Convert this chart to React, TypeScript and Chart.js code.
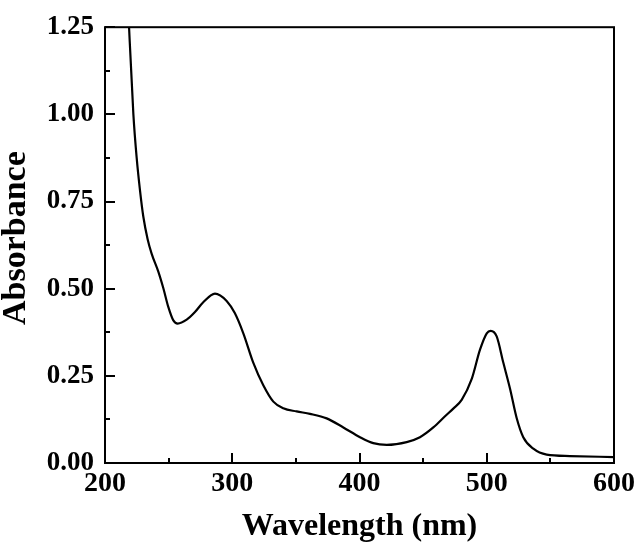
import React, { useEffect, useRef } from "react";
import { Chart, registerables } from "chart.js";

Chart.register(...registerables);

const wavelength = [218, 222.3, 224.9, 227.5, 230.1, 233.5, 236.7, 241.9, 245.8, 249.8, 253.7, 257.1, 264.2, 270.7, 277.2, 286.4, 295.6, 302, 308.7, 316.5, 324.4, 332.3, 340.1, 350.6, 361.1, 374.2, 387.3, 400.4, 410.8, 421.4, 437.1, 447.5, 458, 467.2, 473.7, 480.3, 488.2, 494.7, 500, 503.1, 507.8, 513, 518.3, 523.5, 528.7, 536.6, 547.1, 565.4, 600];
const absorbance = [1.32, 1.0, 0.875, 0.782, 0.707, 0.642, 0.6, 0.549, 0.502, 0.447, 0.409, 0.4, 0.411, 0.433, 0.461, 0.486, 0.465, 0.43, 0.372, 0.288, 0.223, 0.176, 0.157, 0.148, 0.141, 0.128, 0.102, 0.074, 0.057, 0.052, 0.06, 0.074, 0.102, 0.134, 0.156, 0.181, 0.241, 0.325, 0.372, 0.379, 0.363, 0.288, 0.213, 0.129, 0.074, 0.041, 0.024, 0.02, 0.017];

const xMin = 200, xMax = 600, xStep = 100;
const yMin = 0, yMax = 1.25, yStep = 0.25;
const xTitle = "Wavelength (nm)";
const yTitle = "Absorbance";

const SERIF = "'Liberation Serif', 'Times New Roman', serif";

const framePlugin = {
  id: "frameTicks",
  afterDraw(chart: any) {
    const { ctx, chartArea: a, scales } = chart;
    const xs = scales.x, ys = scales.y;
    ctx.save();
    ctx.strokeStyle = "#000";
    ctx.lineWidth = 2;
    ctx.strokeRect(a.left, a.top, a.right - a.left, a.bottom - a.top);
    ctx.beginPath();
    for (let v = xMin; v <= xMax + 1e-9; v += xStep / 2) {
      const major = Math.abs((v - xMin) % xStep) < 1e-6;
      const px = Math.round(xs.getPixelForValue(v));
      ctx.moveTo(px, a.bottom);
      ctx.lineTo(px, a.bottom - (major ? 10 : 5));
    }
    for (let i = 0; i <= Math.round((yMax - yMin) / (yStep / 2)); i++) {
      const v = yMin + i * yStep / 2;
      const major = i % 2 === 0;
      const py = Math.round(ys.getPixelForValue(v));
      ctx.moveTo(a.left, py);
      ctx.lineTo(a.left + (major ? 10 : 5), py);
    }
    ctx.stroke();
    // y axis title
    ctx.fillStyle = "#000";
    ctx.font = `bold 34px ${SERIF}`;
    ctx.textAlign = "center";
    ctx.textBaseline = "alphabetic";
    ctx.translate(25, (a.top + a.bottom) / 2 - 7);
    ctx.rotate(-Math.PI / 2);
    ctx.fillText(yTitle, 0, 0);
    ctx.restore();
  },
};

export default function App() {
  const ref = useRef<HTMLCanvasElement>(null);
  useEffect(() => {
    const data = wavelength.map((w, i) => ({ x: w, y: absorbance[i] }));
    const chart = new Chart(ref.current!, {
      type: "line",
      data: {
        datasets: [
          {
            data,
            borderColor: "#000",
            borderWidth: 2.2,
            pointRadius: 0,
            fill: false,
            cubicInterpolationMode: "monotone",
          },
        ],
      },
      options: {
        animation: false,
        responsive: false,
        maintainAspectRatio: false,
        layout: { padding: { top: 16, right: 26, left: 0, bottom: 0 } },
        plugins: { legend: { display: false }, tooltip: { enabled: false } },
        scales: {
          x: {
            type: "linear",
            min: xMin,
            max: xMax,
            border: { display: false },
            grid: { display: false, drawTicks: false },
            ticks: {
              stepSize: xStep,
              color: "#000",
              padding: 4,
              maxRotation: 0,
              font: { family: SERIF, size: 28, weight: "bold" },
            },
            title: {
              display: true,
              text: xTitle,
              color: "#000",
              padding: { top: 0, bottom: 2 },
              font: { family: SERIF, size: 32, weight: "bold" },
            },
            afterFit(s: any) {
              s.height = 85;
            },
          },
          y: {
            type: "linear",
            min: yMin,
            max: yMax,
            border: { display: false },
            grid: { display: false, drawTicks: false },
            ticks: {
              stepSize: yStep,
              color: "#000",
              padding: 11,
              font: { family: SERIF, size: 27, weight: "bold" },
              callback: (v: any) => Number(v).toFixed(2),
            },
            title: { display: false },
            afterFit(s: any) {
              s.width = 105;
            },
          },
        },
      },
      plugins: [framePlugin],
    } as any);
    return () => chart.destroy();
  }, []);
  return (
    <div style={{ position: "absolute", left: 0, top: 0, width: 640, height: 548, background: "#fff" }}>
      <canvas ref={ref} width={640} height={548} style={{ display: "block" }} />
    </div>
  );
}
